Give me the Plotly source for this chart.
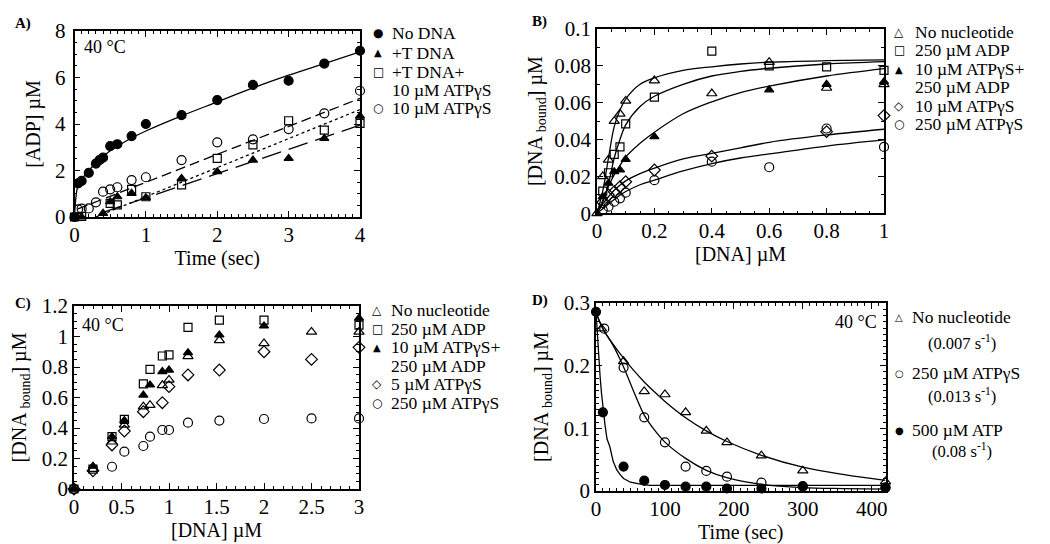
import plotly.graph_objects as go

SERIF = "Liberation Serif"
SYMF = "DejaVu Sans"

# ---------------- Panel A data ----------------
a_t_nodna = [0, 0.05, 0.1, 0.2, 0.3, 0.35, 0.4, 0.5, 0.6, 0.8, 1.0, 1.5, 2.0, 2.5, 3.0, 3.5, 4.0]
a_nodna = [0.0, 1.45, 1.55, 1.9, 2.3, 2.45, 2.55, 3.05, 3.13, 3.48, 4.0, 4.38, 5.03, 5.68, 5.86, 6.6, 7.15]
a_t_tdna = [0, 0.1, 0.4, 0.5, 0.6, 0.8, 1.0, 1.5, 2.0, 2.5, 3.0, 3.5, 4.0]
a_tdna = [0.0, 0.0, 0.16, 0.66, 0.87, 1.02, 0.83, 1.66, 1.95, 2.45, 2.52, 3.38, 4.34]
a_t_tdna_atp = [0, 0.1, 0.5, 0.6, 0.8, 1.0, 1.5, 2.0, 2.5, 3.0, 3.5, 4.0]
a_tdna_atp = [0.0, 0.03, 0.59, 0.52, 1.19, 0.87, 1.38, 2.52, 3.1, 4.14, 3.74, 4.03]
a_t_atp = [0.05, 0.1, 0.2, 0.3, 0.4, 0.5, 0.6, 0.8, 1.0, 1.5, 2.0, 2.5, 3.0, 3.5, 4.0]
a_atp = [0.33, 0.36, 0.37, 0.63, 1.09, 1.19, 1.28, 1.59, 1.71, 2.45, 3.21, 3.34, 3.78, 4.46, 5.43]
# fit lines
a_fit_nodna_t = [0, 0.01, 0.02, 0.04, 0.06, 0.1, 0.15, 0.2, 0.3, 0.4, 0.5, 0.6, 0.8, 1.0, 1.5, 2.0, 2.5, 3.0, 3.5, 4.0]
a_fit_nodna = [0, 0.5, 0.85, 1.25, 1.42, 1.62, 1.82, 2.0, 2.32, 2.6, 2.85, 3.05, 3.4, 3.7, 4.35, 4.95, 5.55, 6.1, 6.6, 7.1]
a_fit_atp_t = [0.05, 4.0]
a_fit_atp = [0.35, 5.1]
a_fit_tdna_atp_t = [0.3, 4.0]
a_fit_tdna_atp = [0.0, 4.62]
a_fit_tdna_t = [0.4, 4.0]
a_fit_tdna = [0.2, 3.95]

# ---------------- Panel B data ----------------
b_x_nonuc = [0, 0.02, 0.04, 0.06, 0.08, 0.1, 0.2, 0.4, 0.6, 0.8, 1.0]
b_nonuc = [0.0, 0.02, 0.029, 0.05, 0.054, 0.061, 0.072, 0.065, 0.082, 0.068, 0.070]
b_x_adp = [0.02, 0.04, 0.06, 0.08, 0.1, 0.2, 0.4, 0.6, 0.8, 1.0]
b_adp = [0.012, 0.022, 0.032, 0.036, 0.0485, 0.063, 0.088, 0.080, 0.0795, 0.0775]
b_x_mix = [0.02, 0.04, 0.06, 0.08, 0.1, 0.2, 0.6, 0.8, 1.0]
b_mix = [0.009, 0.0163, 0.0226, 0.0235, 0.0293, 0.0416, 0.067, 0.070, 0.0714]
b_x_atp10 = [0.02, 0.04, 0.06, 0.08, 0.1, 0.2, 0.4, 0.8, 1.0]
b_atp10 = [0.006, 0.0099, 0.0117, 0.0144, 0.0171, 0.0235, 0.031, 0.0443, 0.053]
b_x_atp250 = [0.02, 0.04, 0.06, 0.08, 0.1, 0.2, 0.4, 0.6, 0.8, 1.0]
b_atp250 = [0.0018, 0.0036, 0.0063, 0.0081, 0.0112, 0.018, 0.028, 0.025, 0.046, 0.036]
b_fit_x = [0, 0.02, 0.04, 0.06, 0.08, 0.1, 0.15, 0.2, 0.3, 0.4, 0.5, 0.6, 0.8, 1.0]
b_fit_nonuc = [0, 0.012, 0.03, 0.047, 0.056, 0.062, 0.070, 0.0735, 0.0775, 0.0795, 0.081, 0.082, 0.0828, 0.0832]
b_fit_adp = [0, 0.006, 0.016, 0.030, 0.040, 0.048, 0.058, 0.0635, 0.070, 0.0745, 0.077, 0.0787, 0.081, 0.0823]
b_fit_mix = [0, 0.007, 0.0145, 0.021, 0.026, 0.0305, 0.038, 0.0440, 0.054, 0.0605, 0.0655, 0.069, 0.0745, 0.0785]
b_fit_atp10 = [0, 0.005, 0.009, 0.0125, 0.0152, 0.0176, 0.0215, 0.0245, 0.0295, 0.0325, 0.0355, 0.0385, 0.0425, 0.0456]
b_fit_atp250 = [0, 0.0025, 0.005, 0.0075, 0.0098, 0.0118, 0.0155, 0.0180, 0.0230, 0.0270, 0.0300, 0.0322, 0.0365, 0.0398]

# ---------------- Panel C data ----------------
c_x = [0, 0.2, 0.4, 0.53, 0.73, 0.8, 0.93, 1.0, 1.2, 1.53, 2.0, 2.5, 3.0]
c_nonuc = [0, 0.13, 0.31, 0.42, 0.54, 0.55, 0.68, 0.715, 0.87, 0.975, 0.955, 1.03, 1.03]
c_adp = [0, 0.13, 0.343, 0.457, 0.689, 0.785, 0.872, 0.879, 1.06, 1.108, 1.108, None, 1.075]
c_mix = [0, 0.15, 0.343, 0.45, 0.616, 0.682, 0.77, 0.78, 0.894, 1.01, 1.069, None, 1.12]
c_atp5 = [0, 0.12, 0.289, 0.38, 0.507, None, 0.566, 0.671, 0.748, 0.78, 0.90, 0.85, 0.929]
c_atp250 = [0, None, 0.146, 0.245, 0.282, 0.343, 0.387, 0.387, 0.435, 0.449, 0.459, 0.463, 0.463]

# ---------------- Panel D data ----------------
d_t_nonuc = [8, 40, 70, 100, 130, 160, 190, 240, 300, 420]
d_nonuc = [0.259, 0.207, 0.159, 0.154, 0.1255, 0.096, 0.0776, 0.0563, 0.0324, 0.015]
d_t_atpgs = [12, 40, 70, 100, 130, 160, 190, 240, 300, 420]
d_atpgs = [0.259, 0.197, 0.1176, 0.0776, 0.039, 0.032, 0.0229, 0.0133, 0.008, 0.006]
d_t_atp = [0, 10, 40, 70, 100, 130, 160, 190, 240, 300, 420]
d_atp = [0.286, 0.1255, 0.039, 0.0165, 0.0096, 0.0069, 0.0069, 0.004, 0.004, 0.007, 0.005]
d_fit_t = [0, 10, 25, 40, 55, 70, 85, 100, 130, 160, 190, 240, 300, 360, 420]
d_fit_nonuc = [0.285, 0.259, 0.234, 0.212, 0.192, 0.174, 0.158, 0.143, 0.117, 0.096, 0.079, 0.057, 0.038, 0.026, 0.017]
d_fit_atpgs = [0.285, 0.259, 0.232, 0.198, 0.158, 0.121, 0.097, 0.078, 0.052, 0.033, 0.0213, 0.0106, 0.0053, 0.0038, 0.003]
d_fit_atp_t = [0, 2, 4, 6, 8, 10, 13, 16, 20, 25, 30, 35, 40, 50, 60, 70, 80, 420]
d_fit_atp = [0.286, 0.246, 0.212, 0.182, 0.156, 0.133, 0.106, 0.083, 0.071, 0.047, 0.034, 0.026, 0.020, 0.014, 0.0113, 0.0098, 0.009, 0.009]

fig = go.Figure()

def pts(x, y, sym, ax, size=9):
    fig.add_trace(go.Scatter(x=x, y=y, mode="markers", xaxis="x" + ax, yaxis="y" + ax,
                             marker=dict(symbol=sym, size=size, color="black",
                                         line=dict(color="black", width=1.2)),
                             cliponaxis=False, showlegend=False))

def fit(x, y, ax, dash="solid", shape="spline"):
    fig.add_trace(go.Scatter(x=x, y=y, mode="lines", xaxis="x" + ax, yaxis="y" + ax,
                             line=dict(color="black", width=1.3, dash=dash, shape=shape),
                             showlegend=False, hoverinfo="skip"))

# Panel A
fit(a_fit_nodna_t, a_fit_nodna, "")
fit(a_fit_atp_t, a_fit_atp, "", dash="10px,5px", shape="linear")
fit(a_fit_tdna_atp_t, a_fit_tdna_atp, "", dash="3px,3px", shape="linear")
fit(a_fit_tdna_t, a_fit_tdna, "", dash="20px,8px", shape="linear")
pts(a_t_nodna, a_nodna, "circle", "")
pts(a_t_tdna, a_tdna, "triangle-up", "", 8)
pts(a_t_tdna_atp, a_tdna_atp, "square-open", "", 8)
pts(a_t_atp, a_atp, "circle-open", "")

# Panel B
for fy in [b_fit_nonuc, b_fit_adp, b_fit_mix, b_fit_atp10, b_fit_atp250]:
    fit(b_fit_x, fy, "2")
pts(b_x_nonuc, b_nonuc, "triangle-up-open", "2")
pts(b_x_adp, b_adp, "square-open", "2", 8)
pts(b_x_mix, b_mix, "triangle-up", "2", 8)
pts(b_x_atp10, b_atp10, "diamond-open", "2")
pts(b_x_atp250, b_atp250, "circle-open", "2")

# Panel C
pts(c_x, c_nonuc, "triangle-up-open", "3")
pts(c_x, c_adp, "square-open", "3", 8)
pts(c_x, c_mix, "triangle-up", "3", 8)
pts(c_x, c_atp5, "diamond-open", "3")
pts(c_x, c_atp250, "circle-open", "3")

# Panel D
fit(d_fit_t, d_fit_nonuc, "4")
fit(d_fit_t, d_fit_atpgs, "4")
fit(d_fit_atp_t, d_fit_atp, "4", shape="linear")
pts(d_t_nonuc, d_nonuc, "triangle-up-open", "4")
pts(d_t_atpgs, d_atpgs, "circle-open", "4")
pts(d_t_atp, d_atp, "circle", "4")

W, H = 1050, 544
def dx(a, b): return [a / W, b / W]
def dy(top, bot): return [1 - bot / H, 1 - top / H]

def axis(domain, rng, tickvals, minor_dtick, title, anchor, standoff, tls=0):
    return dict(domain=domain, range=rng, anchor=anchor, tickvals=tickvals,
                automargin=False,
                showline=True, linecolor="black", linewidth=1.5, mirror="ticks",
                ticks="inside", ticklen=6, tickwidth=1.2, tickcolor="black",
                showgrid=False, zeroline=False, ticklabelstandoff=tls,
                tickfont=dict(family=SERIF, size=21, color="black"),
                minor=dict(ticks="inside", ticklen=3, tickwidth=1, tickcolor="black",
                           dtick=minor_dtick, showgrid=False),
                title=dict(text=title, font=dict(family=SERIF, size=20, color="black"),
                           standoff=standoff))

a_xt = [0, 1, 2, 3, 4]
a_yt = [0, 2, 4, 6, 8]
b_xt = [0, 0.2, 0.4, 0.6, 0.8, 1.0]
b_yt = [0, 0.02, 0.04, 0.06, 0.08, 0.1]
c_xt = [0, 0.5, 1, 1.5, 2, 2.5, 3]
c_yt = [0, 0.2, 0.4, 0.6, 0.8, 1, 1.2]
d_xt = [0, 100, 200, 300, 400]
d_yt = [0, 0.1, 0.2, 0.3]

ytitle = "[DNA <sub>bound</sub>] µM"
fig.update_layout(
    template="none",
    width=W, height=H, margin=dict(l=0, r=0, t=0, b=0, pad=0),
    paper_bgcolor="white", plot_bgcolor="white",
    font=dict(family=SERIF, color="black"),
    xaxis=axis(dx(74.5, 360), [0, 4], a_xt, 0.1, "Time (sec)", "y", 2, -2),
    yaxis=axis(dy(31, 217), [0, 8], a_yt, 0.5, "[ADP] µM", "x", 9, 3),
    xaxis2=axis(dx(597, 884), [0, 1], b_xt, 0.05, "[DNA] µM", "y2", 2, -2),
    yaxis2=axis(dy(29, 213.3), [0, 0.1], b_yt, 0.01, ytitle, "x2", 6, 0),
    xaxis3=axis(dx(74, 359), [0, 3], c_xt, 0.1, "[DNA] µM", "y3", 2, -2),
    yaxis3=axis(dy(306, 489), [0, 1.2], c_yt, 0.05, ytitle, "x3", 10, 0),
    xaxis4=axis(dx(596, 885.5), [0, 420], d_xt, 10, "Time (sec)", "y4", 2, -2),
    yaxis4=axis(dy(303, 491), [0, 0.3], d_yt, 0.01, ytitle, "x4", 10, 0),
)

ann = []
def txt(x, y, s, size=17.5, xanchor="left", bold=False, family=SERIF):
    ann.append(dict(x=x / W, y=1 - y / H, xref="paper", yref="paper", text=("<b>%s</b>" % s) if bold else s,
                    showarrow=False, xanchor=xanchor, yanchor="middle",
                    font=dict(family=family, size=size, color="black")))

def leg(xs, xt, y, sym, s, symsize=12):
    if sym:
        txt(xs, y, sym, size=symsize, xanchor="center", family=SYMF)
    txt(xt, y, s)

# panel letters
txt(13, 24, "A)", size=15, bold=True)
txt(530, 22, "B)", size=15, bold=True)
txt(13, 303, "C)", size=15, bold=True)
txt(530, 300, "D)", size=15, bold=True)
# temperatures
txt(82, 47, "40 °C", size=18)
txt(80, 325, "40 °C", size=18)
txt(833, 322, "40 °C", size=18)

# legend A
leg(378, 390, 33, "●", "No DNA")
leg(378, 390, 53, "▲", "+T DNA", 10)
leg(378, 390, 72, "□", "+T DNA+")
leg(378, 390, 90, "", "10 µM ATPγS")
leg(378, 390, 108, "○", "10 µM ATPγS")
# legend B
leg(899, 913, 32, "△", "No nucleotide")
leg(899, 913, 50, "□", "250 µM ADP")
leg(899, 913, 69, "▲", "10 µM ATPγS+", 10)
leg(899, 913, 87, "", "250 µM ADP")
leg(899, 913, 106, "◇", "10 µM ATPγS")
leg(899, 913, 124, "○", "250 µM ATPγS")
# legend C
leg(377, 389, 310, "△", "No nucleotide")
leg(377, 389, 329, "□", "250 µM ADP")
leg(377, 389, 347, "▲", "10 µM ATPγS+", 10)
leg(377, 389, 366, "", "250 µM ADP")
leg(377, 389, 384, "◇", "5 µM ATPγS")
leg(377, 389, 403, "○", "250 µM ATPγS")
# legend D
leg(899, 910, 317, "△", "No nucleotide", 10)
txt(962, 342, "(0.007 s<sup>-1</sup>)", size=16.5, xanchor="center")
leg(899, 910, 373, "○", "250 µM ATPγS", 10)
txt(962, 395, "(0.013 s<sup>-1</sup>)", size=16.5, xanchor="center")
leg(899, 910, 430, "●", "500 µM ATP", 10)
txt(962, 450, "(0.08 s<sup>-1</sup>)", size=16.5, xanchor="center")

fig.update_layout(annotations=ann)
fig.write_html("out.html", config={"displayModeBar": False},
               post_script="document.body.style.margin='0px';document.body.style.overflow='hidden';")
